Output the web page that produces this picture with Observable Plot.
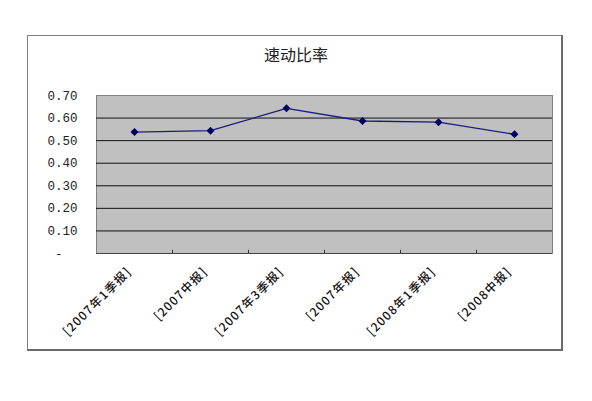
<!DOCTYPE html>
<html><head><meta charset="utf-8">
<script src="https://cdn.jsdelivr.net/npm/d3@7"></script>
<script src="https://cdn.jsdelivr.net/npm/@observablehq/plot@0.6"></script>
<style>
body{margin:0;background:#fff;}
#wrap{position:relative;width:592px;height:401px;}
#box{position:absolute;left:27px;top:35px;width:533px;height:313px;border:1px solid #808080;border-right:2px solid #6a6a6a;border-bottom:2px solid #6a6a6a;}
#title{position:absolute;left:0;width:592px;top:45px;line-height:18px;text-align:center;font-family:"Noto Sans CJK SC";font-size:16px;color:#222;}
#chart{position:absolute;left:0;top:0;}
</style></head>
<body><div id="wrap"><div id="box"></div><div id="chart"></div><div id="title">速动比率</div></div>
<script>
const periods = ["[2007年1季报]", "[2007中报]", "[2007年3季报]", "[2007年报]", "[2008年1季报]", "[2008中报]"];
const quickRatio = [0.538, 0.544, 0.643, 0.587, 0.582, 0.528];
const yTicks = [0, 0.1, 0.2, 0.3, 0.4, 0.5, 0.6, 0.7];
const gridValues = [0.1, 0.2, 0.3, 0.4, 0.5, 0.6];

const data = periods.map((p, i) => ({period: p, value: quickRatio[i]}));

const chart = Plot.plot({
  width: 592, height: 401,
  marginLeft: 96, marginRight: 40, marginTop: 95, marginBottom: 148,
  style: {background: "transparent", overflow: "visible"},
  x: {type: "band", domain: periods, padding: 0, axis: null},
  y: {domain: [0, 0.7], axis: null},
  marks: [
    Plot.frame({fill: "#c0c0c0", stroke: "#808080"}),
    Plot.ruleY(gridValues, {stroke: "#111"}),
    Plot.ruleY([0], {stroke: "#444"}),
    Plot.ruleX(periods.slice(1), {x: d => d, y1: () => 0, y2: () => 0.014, dx: -38, stroke: "#333"}),
    Plot.axisY(yTicks, {
      label: null, tickSize: 0, tickPadding: 19,
      tickFormat: v => v === 0 ? "-\u00a0\u00a0" : v.toFixed(2),
      fontFamily: "Liberation Mono", fontSize: 12.5, fill: "#222"
    }),
    Plot.line(data, {x: "period", y: "value", stroke: "#1a1a80", strokeWidth: 1.3}),
    Plot.dot(data, {x: "period", y: "value", symbol: "diamond2", r: 3.6, fill: "#000060", stroke: "none"}),
    Plot.text(data, {
      x: "period", y: () => 0, text: "period",
      rotate: -45, textAnchor: "end", dx: -5, dy: 16,
      fontFamily: "Noto Sans CJK SC", fontSize: 12, fontWeight: 500, fill: "#111"
    })
  ]
});
d3.select(chart).selectAll('g[aria-label="text"] text').attr("letter-spacing", "1.2px");
document.getElementById("chart").appendChild(chart);
</script>
</body></html>
